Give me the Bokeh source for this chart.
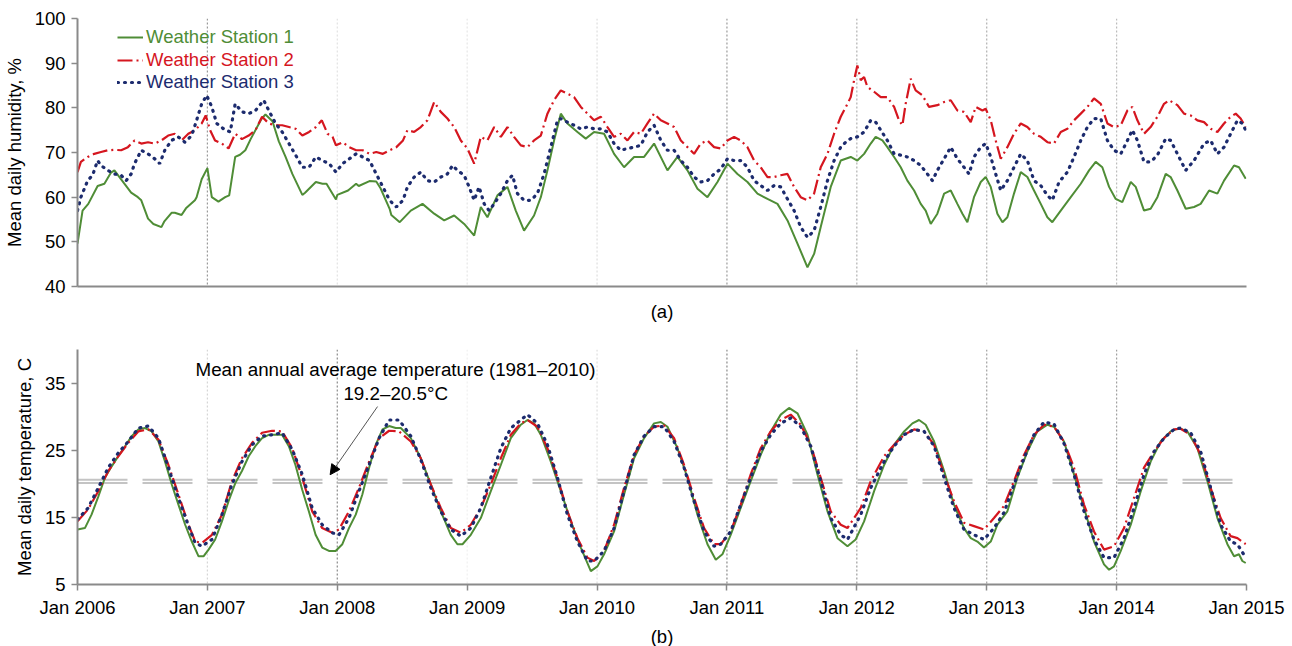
from bokeh.plotting import figure
from bokeh.layouts import column
from bokeh.models import (Range1d, FixedTicker, Span, Label, Arrow, NormalHead,
                          Legend, LegendItem)
from bokeh.embed import file_html
from bokeh.resources import INLINE

# ---------------- data ----------------
STATIONS = ["Weather Station 1", "Weather Station 2", "Weather Station 3"]
X_TICKS = [2006, 2007, 2008, 2009, 2010, 2011, 2012, 2013, 2014, 2015]
X_TICK_LABELS = ["Jan 2006", "Jan 2007", "Jan 2008", "Jan 2009", "Jan 2010",
                 "Jan 2011", "Jan 2012", "Jan 2013", "Jan 2014", "Jan 2015"]
HUM_TICKS = [40, 50, 60, 70, 80, 90, 100]
TEMP_TICKS = [5, 15, 25, 35]
MEAN_BAND = [20.1, 20.6]          # dashed reference lines (mean annual temperature)

# (decimal year, mean daily humidity %)
HUM_S1 = [
    (2006.000, 49.6), (2006.039, 57), (2006.083, 58.5), (2006.155, 62.5), (2006.207, 63),
    (2006.258, 65.5), (2006.284, 66), (2006.336, 64), (2006.413, 61), (2006.465, 60),
    (2006.491, 59.3), (2006.543, 55.2), (2006.584, 54), (2006.646, 53.3), (2006.667, 54.5),
    (2006.724, 56.5), (2006.749, 56.5), (2006.801, 56), (2006.835, 57.5), (2006.904, 59.3),
    (2006.917, 60), (2006.956, 64), (2007.000, 66.5), (2007.034, 60), (2007.085, 59),
    (2007.137, 60), (2007.168, 60.4), (2007.214, 69), (2007.251, 69.5), (2007.292, 70.5),
    (2007.333, 73), (2007.416, 77.5), (2007.447, 78.5), (2007.501, 77), (2007.550, 72.5),
    (2007.602, 69), (2007.654, 65.2), (2007.731, 60.5), (2007.752, 61), (2007.835, 63.4),
    (2007.886, 63), (2007.917, 63), (2007.990, 59.5), (2008.000, 60.5), (2008.083, 61.5),
    (2008.145, 63), (2008.165, 62.5), (2008.248, 63.6), (2008.300, 63.5), (2008.333, 62),
    (2008.403, 57.4), (2008.416, 56), (2008.481, 54.4), (2008.566, 57), (2008.656, 58.5),
    (2008.746, 56.3), (2008.823, 54.8), (2008.900, 55.9), (2008.977, 54), (2009.054, 51.4),
    (2009.105, 57.8), (2009.156, 55.5), (2009.233, 60.4), (2009.310, 62.3), (2009.374, 57),
    (2009.438, 52.5), (2009.515, 55.9), (2009.567, 60), (2009.618, 66), (2009.669, 72.7),
    (2009.721, 78.7), (2009.772, 76.5), (2009.849, 74.6), (2009.913, 73.1), (2009.977, 74.6),
    (2010.054, 74.2), (2010.131, 69.7), (2010.208, 66.7), (2010.285, 69), (2010.362, 69),
    (2010.439, 72), (2010.542, 66), (2010.619, 69), (2010.696, 66), (2010.773, 61.9),
    (2010.850, 60), (2010.927, 63.4), (2011.004, 67.5), (2011.081, 65.2), (2011.158, 63.4),
    (2011.235, 60.8), (2011.312, 59.6), (2011.389, 58.5), (2011.466, 54.8), (2011.543, 49.6),
    (2011.620, 44.3), (2011.671, 47.3), (2011.722, 53.3), (2011.799, 62.3), (2011.876, 68.2),
    (2011.953, 69), (2012.004, 68.2), (2012.056, 69.7), (2012.107, 72), (2012.145, 73.5),
    (2012.197, 72.7), (2012.235, 71.2), (2012.287, 69), (2012.338, 66.7), (2012.389, 63.7),
    (2012.441, 61.5), (2012.492, 58.5), (2012.530, 57), (2012.569, 54), (2012.620, 56.3),
    (2012.672, 60.8), (2012.723, 61.5), (2012.774, 58.5), (2012.813, 56.3), (2012.851, 54.4),
    (2012.902, 60), (2012.954, 63.4), (2012.992, 64.5), (2013.031, 62.3), (2013.082, 56.3),
    (2013.121, 54.4), (2013.159, 55.5), (2013.210, 60.8), (2013.262, 65.6), (2013.313, 64.5),
    (2013.364, 61.5), (2013.416, 58.5), (2013.467, 55.5), (2013.505, 54.4), (2013.570, 57),
    (2013.647, 60), (2013.724, 63), (2013.788, 66), (2013.839, 67.9), (2013.890, 66.7),
    (2013.942, 62.3), (2013.993, 59.6), (2014.044, 58.9), (2014.109, 63.4), (2014.147, 62.3),
    (2014.211, 57), (2014.262, 57.4), (2014.314, 60), (2014.378, 65.2), (2014.416, 64.5),
    (2014.468, 61.5), (2014.532, 57.4), (2014.596, 57.8), (2014.647, 58.5), (2014.712, 61.5),
    (2014.776, 60.8), (2014.827, 63.7), (2014.904, 67.1), (2014.942, 66.7), (2014.994, 64.1),
]
HUM_S2 = [
    (2006.000, 65.6), (2006.026, 67.9), (2006.078, 69), (2006.129, 69.7), (2006.181, 70.1),
    (2006.233, 70.5), (2006.284, 70.6), (2006.336, 70.5), (2006.388, 71.2), (2006.439, 72.7),
    (2006.491, 72), (2006.543, 72.3), (2006.594, 72), (2006.646, 72.7), (2006.698, 73.8),
    (2006.749, 74.2), (2006.801, 72.7), (2006.853, 74.2), (2006.904, 75), (2006.956, 76.5),
    (2006.987, 78.3), (2007.021, 75), (2007.059, 72.7), (2007.111, 72), (2007.163, 70.9),
    (2007.214, 74.2), (2007.266, 73), (2007.318, 73.8), (2007.370, 75), (2007.421, 78),
    (2007.473, 76.5), (2007.525, 76.1), (2007.576, 76.1), (2007.628, 75.7), (2007.680, 75.3),
    (2007.731, 73.8), (2007.783, 74.6), (2007.835, 75.7), (2007.881, 77.2), (2007.925, 74.2),
    (2007.964, 73.5), (2007.990, 71.6), (2008.041, 72.3), (2008.093, 71.2), (2008.145, 70.5),
    (2008.196, 70.5), (2008.248, 69.7), (2008.300, 70.1), (2008.351, 69.7), (2008.403, 70.5),
    (2008.455, 71.2), (2008.506, 72.7), (2008.540, 75), (2008.592, 74.6), (2008.643, 75.7),
    (2008.694, 77.2), (2008.746, 81.3), (2008.797, 79.1), (2008.848, 77.6), (2008.900, 75.7),
    (2008.951, 72.7), (2009.002, 70.9), (2009.054, 67.5), (2009.105, 73.5), (2009.156, 72.7),
    (2009.208, 75.7), (2009.259, 73.5), (2009.310, 75.7), (2009.361, 73.5), (2009.413, 71.6),
    (2009.464, 71.2), (2009.515, 72.7), (2009.567, 73.8), (2009.618, 78.7), (2009.669, 81.7),
    (2009.721, 83.9), (2009.772, 83.2), (2009.823, 82.4), (2009.875, 80.2), (2009.926, 78.7),
    (2009.977, 77.2), (2010.029, 78), (2010.080, 75.7), (2010.131, 73.5), (2010.183, 74.2),
    (2010.234, 72.7), (2010.285, 74.6), (2010.337, 74.2), (2010.388, 76.5), (2010.439, 78.7),
    (2010.491, 77.2), (2010.542, 76.5), (2010.593, 75.7), (2010.645, 72.7), (2010.696, 71.2),
    (2010.747, 69.7), (2010.798, 72), (2010.850, 72.7), (2010.901, 71.2), (2010.952, 70.9),
    (2011.004, 72.7), (2011.055, 73.5), (2011.106, 72.7), (2011.158, 71.2), (2011.209, 68.2),
    (2011.260, 66.7), (2011.312, 64.5), (2011.363, 64.5), (2011.414, 64.9), (2011.466, 65.2),
    (2011.517, 62.3), (2011.568, 60), (2011.620, 59.3), (2011.671, 60.8), (2011.722, 66.7),
    (2011.774, 69.7), (2011.825, 74.2), (2011.876, 78), (2011.928, 80.9), (2011.953, 82.4),
    (2011.979, 86.2), (2012.004, 89.5), (2012.030, 86.2), (2012.056, 86.9), (2012.081, 84.7),
    (2012.133, 83.6), (2012.184, 82.4), (2012.235, 82.4), (2012.287, 80.2), (2012.325, 77.2),
    (2012.351, 76.1), (2012.376, 80.9), (2012.415, 86.5), (2012.453, 83.9), (2012.505, 82.8),
    (2012.556, 80.2), (2012.620, 80.6), (2012.672, 81.3), (2012.723, 81.7), (2012.774, 79.4),
    (2012.825, 79.1), (2012.877, 76.8), (2012.915, 80.2), (2012.967, 79.4), (2012.992, 79.8),
    (2013.031, 77.2), (2013.069, 72.7), (2013.108, 68.6), (2013.159, 71.2), (2013.210, 74.2),
    (2013.262, 76.5), (2013.313, 75.7), (2013.364, 74.2), (2013.416, 73.5), (2013.467, 72.3),
    (2013.518, 72), (2013.570, 74.6), (2013.621, 75.3), (2013.672, 77.2), (2013.724, 78.7),
    (2013.775, 80.2), (2013.826, 82.1), (2013.878, 80.9), (2013.929, 76.5), (2013.980, 75.7),
    (2014.032, 76.1), (2014.083, 79.4), (2014.121, 80.2), (2014.160, 77.2), (2014.211, 74.2),
    (2014.262, 75.7), (2014.314, 78), (2014.365, 80.9), (2014.404, 81.7), (2014.468, 80.6),
    (2014.519, 78.7), (2014.570, 78.3), (2014.622, 77.2), (2014.673, 76.8), (2014.724, 75.3),
    (2014.776, 74.6), (2014.827, 76.5), (2014.878, 78), (2014.917, 78.7), (2014.955, 77.6),
    (2014.994, 75.7),
]
HUM_S3 = [
    (2006.000, 57), (2006.026, 60), (2006.078, 63.7), (2006.116, 64.9), (2006.155, 68.2),
    (2006.181, 67.1), (2006.233, 66), (2006.284, 65.2), (2006.336, 64.9), (2006.375, 63.7),
    (2006.413, 65.2), (2006.439, 67.5), (2006.491, 70.5), (2006.543, 69.7), (2006.594, 68.6),
    (2006.633, 67.5), (2006.672, 70.5), (2006.724, 72.7), (2006.775, 73.5), (2006.827, 72.3),
    (2006.879, 73.8), (2006.917, 77.2), (2006.956, 80.9), (2006.995, 82.8), (2007.034, 80.2),
    (2007.072, 76.5), (2007.124, 75.3), (2007.176, 74.6), (2007.214, 80.9), (2007.266, 79.1),
    (2007.318, 78.7), (2007.370, 79.4), (2007.434, 81.7), (2007.473, 79.4), (2007.525, 76.5),
    (2007.576, 74.6), (2007.628, 72), (2007.680, 69.4), (2007.731, 66.7), (2007.783, 66.7),
    (2007.835, 69), (2007.886, 68.2), (2007.938, 67.5), (2007.990, 65.6), (2008.041, 67.5),
    (2008.093, 68.6), (2008.145, 69.7), (2008.196, 69), (2008.248, 68.2), (2008.300, 65.2),
    (2008.351, 62.3), (2008.403, 59.3), (2008.455, 57.8), (2008.506, 59.3), (2008.540, 62.3),
    (2008.592, 64.5), (2008.643, 65.6), (2008.694, 63.7), (2008.746, 63.4), (2008.797, 64.5),
    (2008.848, 65.2), (2008.887, 67.1), (2008.925, 66), (2008.977, 64.9), (2009.015, 62.3),
    (2009.054, 59.3), (2009.092, 62.3), (2009.131, 58.5), (2009.169, 57), (2009.208, 58.5),
    (2009.259, 60.8), (2009.310, 63.7), (2009.349, 64.9), (2009.387, 60.8), (2009.438, 59.3),
    (2009.490, 59.3), (2009.541, 60.8), (2009.592, 65.2), (2009.644, 71.2), (2009.695, 77.2),
    (2009.721, 77.6), (2009.772, 76.8), (2009.823, 76.1), (2009.875, 75.3), (2009.926, 75.7),
    (2009.977, 75.3), (2010.029, 75.3), (2010.080, 74.6), (2010.131, 72), (2010.183, 70.5),
    (2010.234, 70.9), (2010.285, 71.2), (2010.337, 71.6), (2010.388, 74.6), (2010.439, 76.1),
    (2010.491, 72.7), (2010.542, 70.5), (2010.593, 70.5), (2010.645, 68.2), (2010.696, 66.7),
    (2010.747, 64.5), (2010.798, 63.4), (2010.850, 63.7), (2010.901, 65.2), (2010.952, 66.3),
    (2011.004, 68.6), (2011.055, 68.2), (2011.106, 68.2), (2011.158, 66.7), (2011.209, 63.7),
    (2011.260, 62.6), (2011.312, 61.5), (2011.363, 62.6), (2011.414, 62.3), (2011.466, 59.6),
    (2011.517, 57), (2011.568, 53.3), (2011.620, 51), (2011.671, 52.5), (2011.722, 57.8),
    (2011.774, 63.7), (2011.825, 68.2), (2011.876, 71.2), (2011.928, 72.7), (2011.953, 73.1),
    (2012.004, 73.5), (2012.056, 74.6), (2012.107, 77.2), (2012.145, 76.8), (2012.184, 75),
    (2012.235, 72.7), (2012.287, 69.7), (2012.338, 69.4), (2012.389, 69), (2012.441, 68.2),
    (2012.492, 67.1), (2012.543, 65.2), (2012.582, 63.7), (2012.620, 66), (2012.672, 68.6),
    (2012.723, 71.2), (2012.774, 68.6), (2012.825, 66.7), (2012.864, 65.2), (2012.902, 69),
    (2012.954, 71.2), (2012.992, 72), (2013.031, 69), (2013.069, 65.2), (2013.108, 61.5),
    (2013.159, 63.7), (2013.210, 66.7), (2013.262, 69.7), (2013.313, 68.2), (2013.364, 63.7),
    (2013.416, 62.6), (2013.467, 60.4), (2013.505, 59.3), (2013.557, 63.4), (2013.621, 65.6),
    (2013.672, 69), (2013.724, 72.7), (2013.775, 75.7), (2013.826, 77.6), (2013.878, 77.6),
    (2013.929, 72.7), (2013.980, 70.5), (2014.032, 69.7), (2014.083, 72.7), (2014.121, 75),
    (2014.160, 72.7), (2014.211, 67.9), (2014.262, 67.9), (2014.314, 69.4), (2014.378, 73.1),
    (2014.416, 72.7), (2014.468, 69.7), (2014.532, 66), (2014.596, 68.2), (2014.673, 72),
    (2014.724, 72.7), (2014.776, 69.7), (2014.827, 71.2), (2014.878, 74.2), (2014.930, 77.2),
    (2014.968, 76.5), (2014.994, 75),
]

# (decimal year, mean daily temperature C)
TEMP_S1 = [
    (2006.000, 13.2), (2006.057, 13.4), (2006.108, 15.4), (2006.160, 18.1), (2006.211, 20.9),
    (2006.263, 22.6), (2006.314, 24.1), (2006.366, 25.6), (2006.417, 27.1), (2006.468, 28.1),
    (2006.520, 28.3), (2006.571, 27.8), (2006.623, 26.3), (2006.674, 23.3), (2006.726, 19.9),
    (2006.777, 16.9), (2006.829, 13.9), (2006.880, 11.4), (2006.932, 9.2), (2006.970, 9.2),
    (2007.009, 10.2), (2007.060, 11.7), (2007.112, 14.4), (2007.163, 17.4), (2007.215, 20.1),
    (2007.266, 21.9), (2007.318, 24.1), (2007.369, 25.6), (2007.421, 26.8), (2007.472, 27.3),
    (2007.524, 27.3), (2007.575, 27.3), (2007.627, 25.6), (2007.678, 22.8), (2007.730, 19.1),
    (2007.781, 15.9), (2007.833, 12.4), (2007.884, 10.5), (2007.936, 10), (2007.987, 10),
    (2008.039, 11), (2008.090, 13.4), (2008.142, 15.4), (2008.193, 18.4), (2008.245, 22.4),
    (2008.296, 25.8), (2008.348, 28.1), (2008.399, 28.6), (2008.450, 28.3), (2008.489, 28.3),
    (2008.566, 26.8), (2008.643, 23.8), (2008.720, 19.9), (2008.797, 15.9), (2008.874, 12.4),
    (2008.925, 11), (2008.964, 11), (2009.028, 12.4), (2009.105, 14.9), (2009.182, 18.9),
    (2009.259, 22.8), (2009.336, 26.8), (2009.413, 28.8), (2009.464, 29.5), (2009.515, 29),
    (2009.567, 27.3), (2009.644, 23.3), (2009.721, 18.9), (2009.798, 14.4), (2009.875, 10.5),
    (2009.952, 7), (2010.003, 7.7), (2010.054, 9.5), (2010.131, 12.9), (2010.208, 18.4),
    (2010.285, 23.8), (2010.362, 26.8), (2010.439, 29), (2010.491, 29.2), (2010.542, 28.5),
    (2010.619, 25.3), (2010.696, 20.9), (2010.773, 15.4), (2010.850, 11), (2010.914, 8.7),
    (2010.965, 9.5), (2011.029, 12.4), (2011.106, 16.4), (2011.183, 20.4), (2011.260, 24.3),
    (2011.337, 27.8), (2011.414, 30.3), (2011.478, 31.3), (2011.543, 30.5), (2011.620, 27.3),
    (2011.697, 21.4), (2011.774, 15.9), (2011.851, 11.9), (2011.928, 10.7), (2011.991, 11.7),
    (2012.056, 14.4), (2012.133, 18.9), (2012.210, 22.8), (2012.287, 25.8), (2012.364, 27.8),
    (2012.428, 29), (2012.479, 29.5), (2012.530, 28.8), (2012.595, 26.3), (2012.672, 21.9),
    (2012.748, 16.9), (2012.825, 13.4), (2012.877, 11.9), (2012.928, 11.4), (2012.979, 10.5),
    (2013.031, 11.4), (2013.082, 13.9), (2013.159, 15.9), (2013.236, 20.9), (2013.313, 24.8),
    (2013.390, 27.8), (2013.467, 28.8), (2013.518, 28.5), (2013.595, 26.3), (2013.672, 21.4),
    (2013.749, 16.4), (2013.826, 11.4), (2013.903, 8), (2013.942, 7.2), (2013.980, 7.7),
    (2014.032, 10), (2014.109, 13.9), (2014.186, 18.9), (2014.262, 23.3), (2014.339, 26.3),
    (2014.416, 27.8), (2014.481, 28.3), (2014.545, 27.8), (2014.622, 25.3), (2014.699, 20.4),
    (2014.776, 14.9), (2014.853, 11), (2014.904, 9.2), (2014.942, 9.5), (2014.968, 8.5),
    (2014.994, 8.2),
]
TEMP_S2 = [
    (2006.000, 14.4), (2006.082, 16.2), (2006.160, 18.9), (2006.237, 21.9), (2006.314, 24.1),
    (2006.391, 26.1), (2006.468, 27.8), (2006.546, 28.1), (2006.623, 26.6), (2006.700, 22.8),
    (2006.777, 18.4), (2006.855, 13.9), (2006.906, 11.4), (2006.958, 11.2), (2007.035, 12.4),
    (2007.112, 15.4), (2007.189, 20.4), (2007.266, 23.8), (2007.344, 26.1), (2007.421, 27.6),
    (2007.498, 27.9), (2007.575, 27.8), (2007.653, 25.3), (2007.730, 20.9), (2007.807, 15.9),
    (2007.884, 13.4), (2007.961, 12.7), (2008.013, 13.2), (2008.090, 15.9), (2008.167, 19.4),
    (2008.245, 23.3), (2008.322, 26.8), (2008.399, 27.9), (2008.476, 27.8), (2008.566, 26.3),
    (2008.643, 23.8), (2008.720, 19.9), (2008.797, 16.4), (2008.874, 13.4), (2008.951, 12.7),
    (2009.028, 13.9), (2009.105, 16.4), (2009.182, 19.9), (2009.259, 23.8), (2009.336, 27.3),
    (2009.413, 29), (2009.464, 29.5), (2009.541, 28.5), (2009.618, 25.3), (2009.695, 20.9),
    (2009.772, 15.9), (2009.849, 11.9), (2009.926, 9), (2009.977, 8.5), (2010.054, 10),
    (2010.131, 13.9), (2010.208, 19.4), (2010.285, 24.3), (2010.362, 27.1), (2010.439, 28.5),
    (2010.516, 28.7), (2010.593, 26.8), (2010.670, 22.8), (2010.747, 17.9), (2010.824, 13.4),
    (2010.901, 11), (2010.952, 11), (2011.029, 12.9), (2011.106, 16.9), (2011.183, 21.4),
    (2011.260, 25.3), (2011.337, 27.8), (2011.414, 29.5), (2011.491, 30.3), (2011.568, 28.8),
    (2011.645, 25.8), (2011.722, 20.9), (2011.799, 15.9), (2011.876, 13.9), (2011.928, 13.4),
    (2012.030, 16.4), (2012.107, 20.4), (2012.210, 24.1), (2012.287, 25.8), (2012.364, 27.3),
    (2012.441, 28.1), (2012.518, 27.8), (2012.595, 25.8), (2012.672, 21.4), (2012.748, 17.4),
    (2012.825, 14.2), (2012.902, 13.7), (2012.979, 13.2), (2013.056, 14.9), (2013.133, 16.7),
    (2013.210, 20.4), (2013.287, 24.3), (2013.364, 27.3), (2013.441, 28.8), (2013.518, 28.5),
    (2013.595, 26.3), (2013.672, 22.4), (2013.749, 16.9), (2013.826, 12.9), (2013.903, 10.2),
    (2013.980, 10.7), (2014.057, 13.4), (2014.134, 17.9), (2014.211, 22.4), (2014.288, 24.8),
    (2014.365, 26.8), (2014.442, 28.1), (2014.493, 28.2), (2014.570, 27.3), (2014.647, 24.3),
    (2014.724, 19.4), (2014.801, 14.9), (2014.878, 12.2), (2014.930, 11.9), (2014.994, 11),
]
TEMP_S3 = [
    (2006.000, 14.7), (2006.082, 16.4), (2006.160, 19.4), (2006.237, 22.4), (2006.314, 24.6),
    (2006.391, 26.3), (2006.468, 28.3), (2006.546, 28.6), (2006.623, 26.8), (2006.700, 22.4),
    (2006.777, 17.9), (2006.855, 13.7), (2006.906, 11.2), (2006.958, 10.7), (2007.035, 11.7),
    (2007.112, 15.4), (2007.189, 19.9), (2007.266, 23.3), (2007.344, 25.8), (2007.421, 27.1),
    (2007.498, 27.3), (2007.575, 27.6), (2007.653, 25.1), (2007.730, 21.4), (2007.807, 16.4),
    (2007.884, 13.9), (2007.961, 12.7), (2008.013, 12.4), (2008.090, 14.9), (2008.167, 18.9),
    (2008.245, 22.8), (2008.322, 26.8), (2008.399, 29.5), (2008.476, 29.5), (2008.566, 27.1),
    (2008.643, 23.6), (2008.720, 19.4), (2008.797, 15.9), (2008.874, 13.2), (2008.951, 12.2),
    (2009.028, 13.4), (2009.105, 16.4), (2009.182, 20.9), (2009.259, 25.3), (2009.336, 28.3),
    (2009.413, 29.5), (2009.464, 30.3), (2009.541, 29), (2009.618, 25.8), (2009.695, 20.9),
    (2009.772, 15.4), (2009.849, 11.4), (2009.926, 8.5), (2009.977, 8.5), (2010.054, 10),
    (2010.131, 13.4), (2010.208, 18.9), (2010.285, 24.3), (2010.362, 27.1), (2010.439, 28.5),
    (2010.516, 28.5), (2010.593, 26.3), (2010.670, 22.4), (2010.747, 17.4), (2010.824, 12.9),
    (2010.901, 10.7), (2010.952, 11), (2011.029, 12.9), (2011.106, 16.9), (2011.183, 20.9),
    (2011.260, 24.8), (2011.337, 27.3), (2011.414, 29), (2011.491, 29.8), (2011.568, 28.5),
    (2011.645, 25.6), (2011.722, 20.4), (2011.799, 14.9), (2011.876, 12.4), (2011.928, 11.7),
    (2012.030, 15.4), (2012.107, 19.4), (2012.210, 23.3), (2012.287, 25.6), (2012.364, 27.3),
    (2012.441, 28.1), (2012.518, 27.8), (2012.595, 25.6), (2012.672, 20.9), (2012.748, 16.4),
    (2012.825, 13.2), (2012.902, 12.4), (2012.979, 11.7), (2013.056, 13.4), (2013.133, 15.7),
    (2013.210, 19.9), (2013.287, 23.8), (2013.364, 27.3), (2013.441, 29.2), (2013.518, 28.9),
    (2013.595, 26), (2013.672, 21.4), (2013.749, 15.9), (2013.826, 11.7), (2013.903, 9),
    (2013.980, 9), (2014.057, 11.9), (2014.134, 16.4), (2014.211, 21.4), (2014.288, 24.8),
    (2014.365, 26.8), (2014.442, 28.1), (2014.493, 28.3), (2014.570, 27.6), (2014.647, 24.8),
    (2014.724, 19.4), (2014.801, 13.9), (2014.878, 11.4), (2014.930, 11), (2014.994, 9),
]

# ---------------- styling ----------------
FONT = "Liberation Sans"
FS = "18.5px"
COLORS = ["#4f8d36", "#d5161f", "#1c2b6e"]
STYLES = [
    dict(line_width=2.0),
    dict(line_width=2.2, line_dash="15 4 2 4"),
    dict(line_width=3.2, line_dash="1 6", line_cap="round"),
]
AXIS_COLOR = "#8a8a8a"
TOP_GRID = {2007: "#9a9a9a", 2008: "#e2e2e2", 2009: "#e6e6e6", 2010: "#dedede",
            2011: "#9a9a9a", 2012: "#b0b0b0", 2013: "#b0b0b0", 2014: "#bcbcbc"}
BOT_GRID = {2007: "#d6d6d6", 2008: "#8a8a8a", 2009: "#f0f0f0", 2010: "#dedede",
            2011: "#8a8a8a", 2012: "#9c9c9c", 2013: "#a0a0a0", 2014: "#a0a0a0"}


def make_fig(y0, y1, yticks, frame_h, top, bottom, ylabel):
    p = figure(frame_width=1169, frame_height=frame_h,
               x_range=Range1d(X_TICKS[0], X_TICKS[-1]), y_range=Range1d(y0, y1),
               output_backend="svg", toolbar_location=None,
               min_border_left=77, min_border_right=46,
               min_border_top=top, min_border_bottom=bottom)
    p.outline_line_color = None
    p.grid.visible = False
    p.background_fill_color = "white"
    p.border_fill_color = "white"
    ya = p.yaxis[0]
    ya.ticker = FixedTicker(ticks=yticks)
    ya.axis_label = ylabel
    ya.axis_label_text_font = FONT
    ya.axis_label_text_font_size = FS
    ya.axis_label_text_font_style = "normal"
    ya.axis_label_text_color = "black"
    ya.axis_label_standoff = 7
    ya.major_label_text_font = FONT
    ya.major_label_text_font_size = FS
    ya.major_label_text_color = "black"
    ya.major_label_standoff = 6
    ya.axis_line_color = AXIS_COLOR
    ya.axis_line_width = 2
    ya.major_tick_line_color = AXIS_COLOR
    ya.major_tick_line_width = 1.5
    ya.major_tick_out = 6
    ya.major_tick_in = 0
    ya.minor_tick_line_color = None
    xa = p.xaxis[0]
    xa.axis_line_color = AXIS_COLOR
    xa.axis_line_width = 2
    xa.minor_tick_line_color = None
    xa.axis_label_text_font = FONT
    xa.axis_label_text_font_size = FS
    xa.axis_label_text_font_style = "normal"
    xa.axis_label_text_color = "black"
    return p


def unzip(pairs):
    return [a for a, _ in pairs], [b for _, b in pairs]


# ---------------- top panel: humidity ----------------
p1 = make_fig(HUM_TICKS[0], HUM_TICKS[-1], HUM_TICKS, 268, 18, 37,
              "Mean daily humidity, %")
xa = p1.xaxis[0]
xa.ticker = FixedTicker(ticks=[])
xa.major_tick_line_color = None
xa.major_tick_out = 0
xa.major_tick_in = 0
xa.major_label_standoff = 0
xa.axis_label = "(a)"
xa.axis_label_standoff = 14

for yr, col in TOP_GRID.items():
    p1.add_layout(Span(location=yr, dimension="height", line_color=col,
                       line_width=1.2, line_dash="2 2", level="underlay"))

hum_renderers = []
for series, col, st in zip([HUM_S1, HUM_S2, HUM_S3], COLORS, STYLES):
    xs, ys = unzip(series)
    hum_renderers.append(p1.line(xs, ys, line_color=col, **st))

legend_rows_y = [238, 215.5, 193]
for name, r, col, ly in zip(STATIONS, hum_renderers, COLORS, legend_rows_y):
    lg = Legend(items=[LegendItem(label=name, renderers=[r])], location=(40, ly),
                label_text_color=col, label_text_font=FONT, label_text_font_size=FS,
                glyph_width=26, glyph_height=22, label_height=22, label_standoff=3,
                padding=0, margin=0, spacing=0, border_line_color=None,
                background_fill_alpha=0)
    p1.add_layout(lg)

# ---------------- bottom panel: temperature ----------------
p2 = make_fig(5, 40, TEMP_TICKS, 235, 25, 63, "Mean daily temperature, C")
xa = p2.xaxis[0]
xa.ticker = FixedTicker(ticks=X_TICKS)
xa.major_label_overrides = {t: lab for t, lab in zip(X_TICKS, X_TICK_LABELS)}
xa.major_label_text_font = FONT
xa.major_label_text_font_size = FS
xa.major_label_text_color = "black"
xa.major_label_standoff = 6
xa.major_tick_line_color = AXIS_COLOR
xa.major_tick_line_width = 1.5
xa.major_tick_out = 6
xa.major_tick_in = 0
xa.axis_label = "(b)"
xa.axis_label_standoff = 5

for yr, col in BOT_GRID.items():
    p2.add_layout(Span(location=yr, dimension="height", line_color=col,
                       line_width=1.2, line_dash="2 2", level="underlay"))
for lvl in MEAN_BAND:
    p2.add_layout(Span(location=lvl, dimension="width", line_color="#c4c4c4",
                       line_width=2, line_dash="50 15", level="underlay"))

for series, col, st in zip([TEMP_S1, TEMP_S2, TEMP_S3], COLORS, STYLES):
    xs, ys = unzip(series)
    p2.line(xs, ys, line_color=col, **st)

p2.add_layout(Label(x=2008.448, y=37.0, text="Mean annual average temperature (1981\u20132010)",
                    text_align="center", text_baseline="middle", text_font=FONT,
                    text_font_size="18.8px", text_color="black"))
p2.add_layout(Label(x=2008.45, y=33.5, text="19.2\u201320.5\u00b0C",
                    text_align="center", text_baseline="middle", text_font=FONT,
                    text_font_size="18.8px", text_color="black"))
p2.add_layout(Arrow(end=NormalHead(size=10, fill_color="black", line_color="black"),
                    x_start=2008.31, y_start=31.5, x_end=2007.945, y_end=21.35,
                    line_color="#555555", line_width=1))

layout = column(p1, p2, spacing=0)
open("out.html", "w").write(file_html(layout, INLINE))
